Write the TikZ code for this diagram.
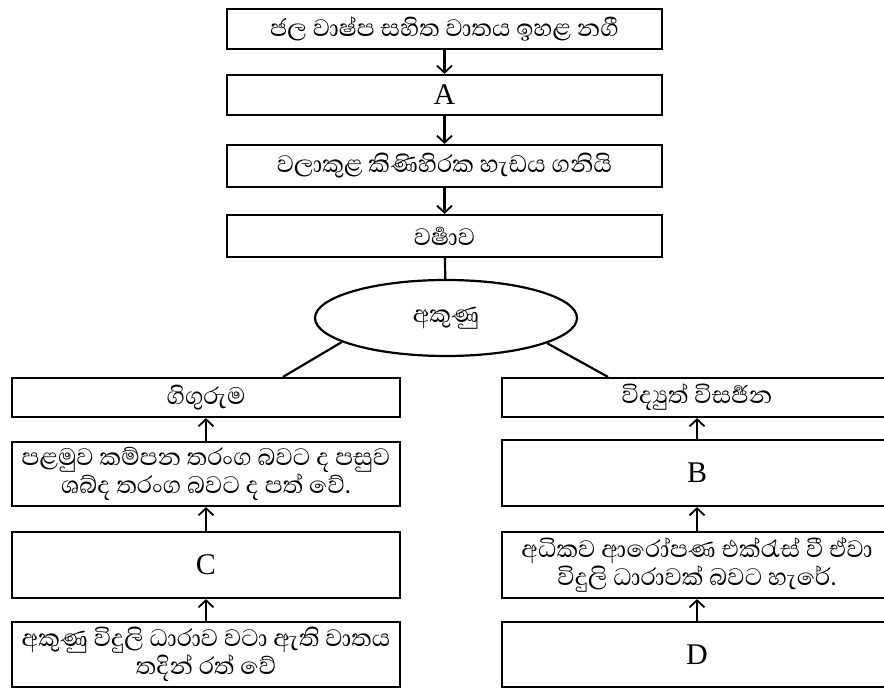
\documentclass[tikz,border=0pt]{standalone}
\usepackage{fontspec}
\setmainfont{Liberation Serif}
\newfontfamily\sinfont[Script=Sinhala]{Abhaya Libre}
\usetikzlibrary{arrows.meta,shapes.geometric,calc}

\begin{document}
\begin{tikzpicture}[x=1pt,y=1pt,line width=2.2pt,
    >={Straight Barb[length=7pt,width=15pt,line width=1.8pt]},
    box/.style={draw,rectangle,inner sep=0pt,align=center,font=\sinfont\fontsize{30.5}{28}\selectfont},
    mid/.style={box,minimum width=435pt,minimum height=40pt},
    lbox/.style={box,minimum width=388pt},
    rbox/.style={box,minimum width=390pt},
    letter/.style={font=\fontsize{30}{30}\selectfont}]
\useasboundingbox (0,0) rectangle (884,688);
\clip (0,0) rectangle (884,688);
% top column
\node[mid] (vapour) at (444.5,659) {ජල වාෂ්ප සහිත වාතය ඉහළ නගී};
\node[mid,letter] (a) at (444.5,593) {A};
\node[mid,minimum height=42pt] (cloud) at (444.5,522) {වලාකුළ කිණිහිරක හැඩය ගනියි};
\node[mid,minimum height=42pt] (rain) at (444.5,452) {වර්‍ෂාව};
\node[draw,ellipse,minimum width=262pt,minimum height=76pt,inner sep=0pt,
      font=\sinfont\fontsize{30.5}{28}\selectfont] (light) at (446,370) {අකුණු};
% left column
\node[lbox,minimum height=39pt] (thunder) at (206,290.5) {ගිගුරුම};
\node[lbox,minimum height=64pt] (waves) at (206,214) {පළමුව කම්පන තරංග බවට ද පසුව\\ශබ්ද තරංග බවට ද පත් වේ.};
\node[lbox,minimum height=66pt,letter] (c) at (206,123) {C};
\node[lbox,minimum height=65pt] (heat) at (206,33.5) {අකුණු විදුලි ධාරාව වටා ඇති වාතය\\තදින් රත් වේ};
% right column
\node[rbox,minimum height=39pt] (spark) at (697,290.5) {විද්‍යුත් විසර්‍ජන};
\node[rbox,minimum height=66pt,letter] (b) at (697,215) {B};
\node[rbox,minimum height=66pt] (charge) at (697,123) {අධිකව ආරෝපණ එක්රැස් වී ඒවා\\විදුලි ධාරාවක් බවට හැරේ.};
\node[rbox,minimum height=65pt,letter] (d) at (697,33.5) {D};

\draw[->] (vapour) -- (a);
\draw[->] (a) -- (cloud);
\draw[->] (cloud) -- (rain);
\draw (rain) -- (light);
\draw (light.193) -- ($(thunder.north)+(77,0)$);
\draw (light.-14) -- ($(spark.north)+(-89,0)$);
\draw[->] (waves) -- (thunder);
\draw[->] (c) -- (waves);
\draw[->] (heat) -- (c);
\draw[->] (b) -- (spark);
\draw[->] (charge) -- (b);
\draw[->] (d) -- (charge);
\end{tikzpicture}
\end{document}
